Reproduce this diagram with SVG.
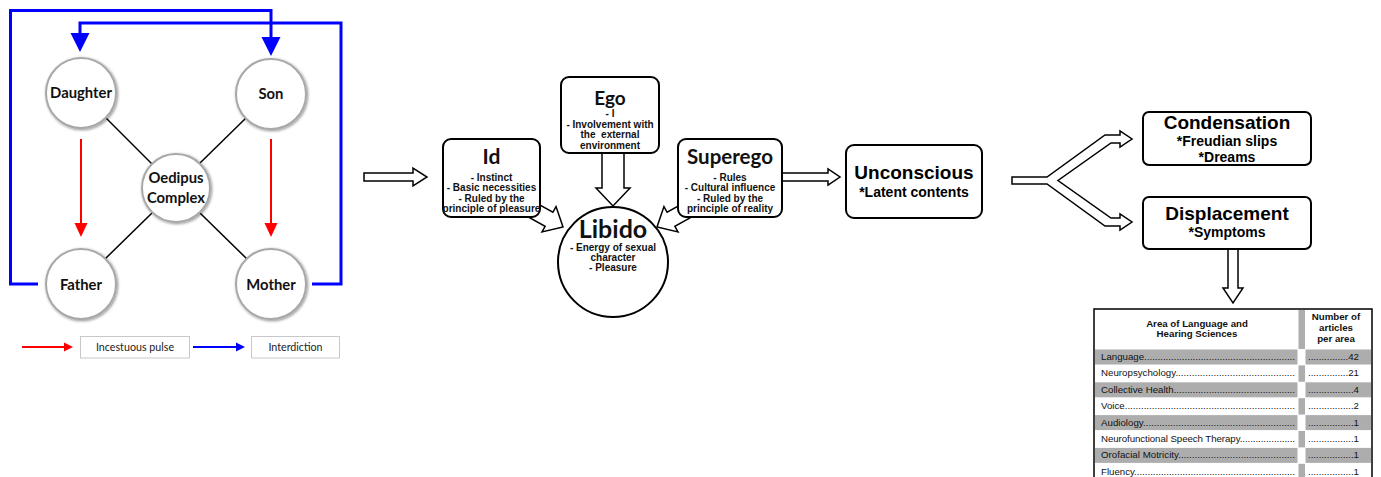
<svg xmlns="http://www.w3.org/2000/svg" width="1381" height="477" viewBox="0 0 1381 477">
<style>
.circ{fill:#fff;stroke:#a8a8a8;stroke-width:2;filter:url(#sh)}
.ct{font-family:Lato,"Open Sans",sans-serif;font-weight:700;font-size:14.8px;fill:#111;text-anchor:middle}
.box{fill:#fff;stroke:#000;stroke-width:2}
.t1{font-family:Lato,"Open Sans",sans-serif;font-weight:700;fill:#111;text-anchor:middle}
.s1{font-family:"Liberation Sans",Arial,sans-serif;font-weight:700;font-size:10px;fill:#111;text-anchor:middle}
.t2{font-family:"Liberation Sans",Arial,sans-serif;font-weight:700;font-size:19px;fill:#000;text-anchor:middle}
.s2{font-family:"Liberation Sans",Arial,sans-serif;font-weight:700;font-size:14px;fill:#000;text-anchor:middle}
.blk{fill:#fff;stroke:#000;stroke-width:1.5;stroke-linejoin:miter}
.blue{fill:none;stroke:#0000ff;stroke-width:3}
.red{fill:none;stroke:#ff0000;stroke-width:2}
.blkline{stroke:#000;stroke-width:1.5}
.leg{fill:#fff;stroke:#c8c8c8;stroke-width:1}
.lt{font-family:Lato,"Open Sans",sans-serif;font-size:10.7px;fill:#222;text-anchor:middle}
.th{font-family:"Liberation Sans",Arial,sans-serif;font-weight:700;font-size:9.7px;fill:#111;text-anchor:middle}
.tr{font-family:"Liberation Sans",Arial,sans-serif;font-size:9.7px;fill:#111}
.gr{fill:#adadad}
</style>
<defs>
<filter id="sh" x="-20%" y="-20%" width="140%" height="140%">
<feGaussianBlur in="SourceAlpha" stdDeviation="1.5"/>
<feOffset dx="0.5" dy="1" result="b"/>
<feComponentTransfer><feFuncA type="linear" slope="0.45"/></feComponentTransfer>
<feMerge><feMergeNode/><feMergeNode in="SourceGraphic"/></feMerge>
</filter>
<marker id="bh" markerUnits="userSpaceOnUse" markerWidth="20" markerHeight="20" refX="0" refY="9.5" orient="auto" overflow="visible"><path d="M0,0 L19,9.5 L0,19 z" fill="#0000ff"/></marker>
<marker id="rh" markerUnits="userSpaceOnUse" markerWidth="15" markerHeight="14" refX="0" refY="6.5" orient="auto" overflow="visible"><path d="M0,0 L14,6.5 L0,13 z" fill="#ff0000"/></marker>
<marker id="rhs" markerUnits="userSpaceOnUse" markerWidth="10" markerHeight="10" refX="0" refY="4.5" orient="auto" overflow="visible"><path d="M0,0 L9,4.5 L0,9 z" fill="#ff0000"/></marker>
<marker id="bhs" markerUnits="userSpaceOnUse" markerWidth="10" markerHeight="10" refX="0" refY="4.5" orient="auto" overflow="visible"><path d="M0,0 L9,4.5 L0,9 z" fill="#0000ff"/></marker>
</defs>
<rect width="1381" height="477" fill="#fff"/>

<g id="connectors">
<path class="blue" d="M38,284 H10.5 V10.5 H271 V37" marker-end="url(#bh)"/>
<path class="blue" d="M312,284 H341 V23 H80 V33" marker-end="url(#bh)"/>
<line class="blkline" x1="105" y1="117" x2="152" y2="164"/>
<line class="blkline" x1="247" y1="117" x2="199" y2="164"/>
<line class="blkline" x1="105" y1="259" x2="152" y2="213"/>
<line class="blkline" x1="247" y1="259" x2="200" y2="213"/>
<path class="red" d="M81,139 V223" marker-end="url(#rh)"/>
<path class="red" d="M271,139 V223" marker-end="url(#rh)"/>
<path class="red" d="M22,347 H64" marker-end="url(#rhs)"/>
<path class="blue" style="stroke-width:2" d="M193,347 H236" marker-end="url(#bhs)"/>
<polygon class="blk" points="364,173 413,173 413,168 427,177 413,186 413,181 364,181"/>
<polygon class="blk" points="602,150 624,150 624,188 630,188 613,206 596,188 602,188"/>
<polygon class="blk" transform="translate(563,227) rotate(29)" points="-40,-8 -16,-8 -16,-14.5 0,0 -16,14.5 -16,8 -40,8"/>
<polygon class="blk" transform="translate(657,227) rotate(151)" points="-40,-8 -16,-8 -16,-14.5 0,0 -16,14.5 -16,8 -40,8"/>
<polygon class="blk" points="781,173 828,173 828,169 840,177 828,185 828,181 781,181"/>
<path class="blk" d="M1012,177 L1047,177 L1105,135 L1120,135 L1120,131 L1132,139 L1120,147 L1120,143 L1111,143 L1058,180.5 L1111,218 L1120,218 L1120,214 L1132,222 L1120,230 L1120,226 L1105,226 L1047,184 L1012,184 Z"/>
<polygon class="blk" points="1228,249 1238,249 1238,288 1243,288 1233,303 1223,288 1228,288"/>
</g>

<g id="daughter"><circle class="circ" cx="81" cy="93" r="35"/><text class="ct" x="81" y="98">Daughter</text></g>
<g id="son"><circle class="circ" cx="271" cy="94" r="35"/><text class="ct" x="271" y="99">Son</text></g>
<g id="oedipus"><circle class="circ" cx="176" cy="188" r="34"/><text class="ct" x="176" y="183">Oedipus</text><text class="ct" x="176" y="203">Complex</text></g>
<g id="father"><circle class="circ" cx="81" cy="284" r="35"/><text class="ct" x="81" y="290">Father</text></g>
<g id="mother"><circle class="circ" cx="271" cy="284" r="35"/><text class="ct" x="271" y="290">Mother</text></g>

<g id="legend-incestuous"><rect class="leg" x="80.5" y="336.5" width="109" height="21.5"/><text class="lt" x="135" y="351">Incestuous pulse</text></g>
<g id="legend-interdiction"><rect class="leg" x="251.5" y="336.5" width="88" height="21.5"/><text class="lt" x="295.5" y="351">Interdiction</text></g>

<g id="id"><rect class="box" x="443" y="139" width="97" height="78" rx="8"/>
<text class="t1" x="491.5" y="164" font-size="21">Id</text>
<text class="s1" x="491.5" y="180.5">- Instinct</text>
<text class="s1" x="491.5" y="191">- Basic necessities</text>
<text class="s1" x="491.5" y="201.5">- Ruled by the</text>
<text class="s1" x="491.5" y="212">principle of pleasure</text></g>

<g id="ego"><rect class="box" x="561" y="77" width="98" height="76" rx="8"/>
<text class="t1" x="610" y="105" font-size="19">Ego</text>
<text class="s1" x="610" y="116.5">- I</text>
<text class="s1" x="610" y="127.5">- Involvement with</text>
<text class="s1" x="610" y="138" style="white-space:pre">the  external</text>
<text class="s1" x="610" y="148.5">environment</text></g>

<g id="superego"><rect class="box" x="678" y="139" width="104" height="78" rx="8"/>
<text class="t1" x="730" y="164" font-size="20.5">Superego</text>
<text class="s1" x="730" y="180.5">- Rules</text>
<text class="s1" x="730" y="191">- Cultural influence</text>
<text class="s1" x="730" y="201.5">- Ruled by the</text>
<text class="s1" x="730" y="212">principle of reality</text></g>

<g id="libido"><circle class="box" cx="613" cy="262" r="55"/>
<text class="t1" x="613" y="238" font-size="25">Libido</text>
<text class="s1" x="613" y="250.5">- Energy of sexual</text>
<text class="s1" x="613" y="261">character</text>
<text class="s1" x="613" y="271">- Pleasure</text></g>

<g id="unconscious"><rect class="box" x="846" y="145" width="136" height="73" rx="8"/>
<text class="t2" x="914" y="179">Unconscious</text>
<text class="s2" x="914" y="197">*Latent contents</text></g>

<g id="condensation"><rect class="box" x="1143" y="112" width="168" height="53" rx="6"/>
<text class="t2" x="1227" y="129">Condensation</text>
<text class="s2" x="1227" y="146">*Freudian slips</text>
<text class="s2" x="1227" y="162">*Dreams</text></g>

<g id="displacement"><rect class="box" x="1143" y="197" width="168" height="52" rx="6"/>
<text class="t2" x="1227" y="220">Displacement</text>
<text class="s2" x="1227" y="237">*Symptoms</text></g>

<g id="table">
<rect x="1094" y="309" width="278" height="175" fill="#fff" stroke="#000" stroke-width="1.5"/>
<rect class="gr" x="1298.5" y="310" width="6.5" height="167"/>
<text class="th" x="1197" y="326.5">Area of Language and</text>
<text class="th" x="1197" y="337">Hearing Sciences</text>
<text class="th" x="1336" y="319.5">Number of</text>
<text class="th" x="1336" y="330.5">articles</text>
<text class="th" x="1336" y="341.5">per area</text>
<g>
<rect fill="#fff" x="1296" y="349" width="10" height="16.4"/><rect class="gr" x="1095" y="349.5" width="202.5" height="15"/><rect class="gr" x="1305.5" y="349.5" width="65.5" height="15"/>
<rect fill="#fff" x="1296" y="381.8" width="10" height="16.4"/><rect class="gr" x="1095" y="382.3" width="202.5" height="15"/><rect class="gr" x="1305.5" y="382.3" width="65.5" height="15"/>
<rect fill="#fff" x="1296" y="414.6" width="10" height="16.4"/><rect class="gr" x="1095" y="415.1" width="202.5" height="15"/><rect class="gr" x="1305.5" y="415.1" width="65.5" height="15"/>
<rect fill="#fff" x="1296" y="447.4" width="10" height="16.4"/><rect class="gr" x="1095" y="447.9" width="202.5" height="15"/><rect class="gr" x="1305.5" y="447.9" width="65.5" height="15"/>
</g>
<g lengthAdjust="spacing">
<text class="tr" x="1101" y="360" textLength="194" lengthAdjust="spacing">Language........................................................</text>
<text class="tr" x="1101" y="376.4" textLength="194" lengthAdjust="spacing">Neuropsychology............................................</text>
<text class="tr" x="1101" y="392.8" textLength="194" lengthAdjust="spacing">Collective Health.............................................</text>
<text class="tr" x="1101" y="409.2" textLength="194" lengthAdjust="spacing">Voice...............................................................</text>
<text class="tr" x="1101" y="425.6" textLength="194" lengthAdjust="spacing">Audiology........................................................</text>
<text class="tr" x="1101" y="442" textLength="194" lengthAdjust="spacing">Neurofunctional Speech Therapy.....................</text>
<text class="tr" x="1101" y="458.4" textLength="194" lengthAdjust="spacing">Orofacial Motricity...........................................</text>
<text class="tr" x="1101" y="474.8" textLength="194" lengthAdjust="spacing">Fluency............................................................</text>
<text class="tr" x="1308" y="360" textLength="51" lengthAdjust="spacing">...............42</text>
<text class="tr" x="1308" y="376.4" textLength="51" lengthAdjust="spacing">...............21</text>
<text class="tr" x="1308" y="392.8" textLength="51" lengthAdjust="spacing">.................4</text>
<text class="tr" x="1308" y="409.2" textLength="51" lengthAdjust="spacing">.................2</text>
<text class="tr" x="1308" y="425.6" textLength="51" lengthAdjust="spacing">.................1</text>
<text class="tr" x="1308" y="442" textLength="51" lengthAdjust="spacing">.................1</text>
<text class="tr" x="1308" y="458.4" textLength="51" lengthAdjust="spacing">.................1</text>
<text class="tr" x="1308" y="474.8" textLength="51" lengthAdjust="spacing">.................1</text>
</g>
</g>
</svg>
